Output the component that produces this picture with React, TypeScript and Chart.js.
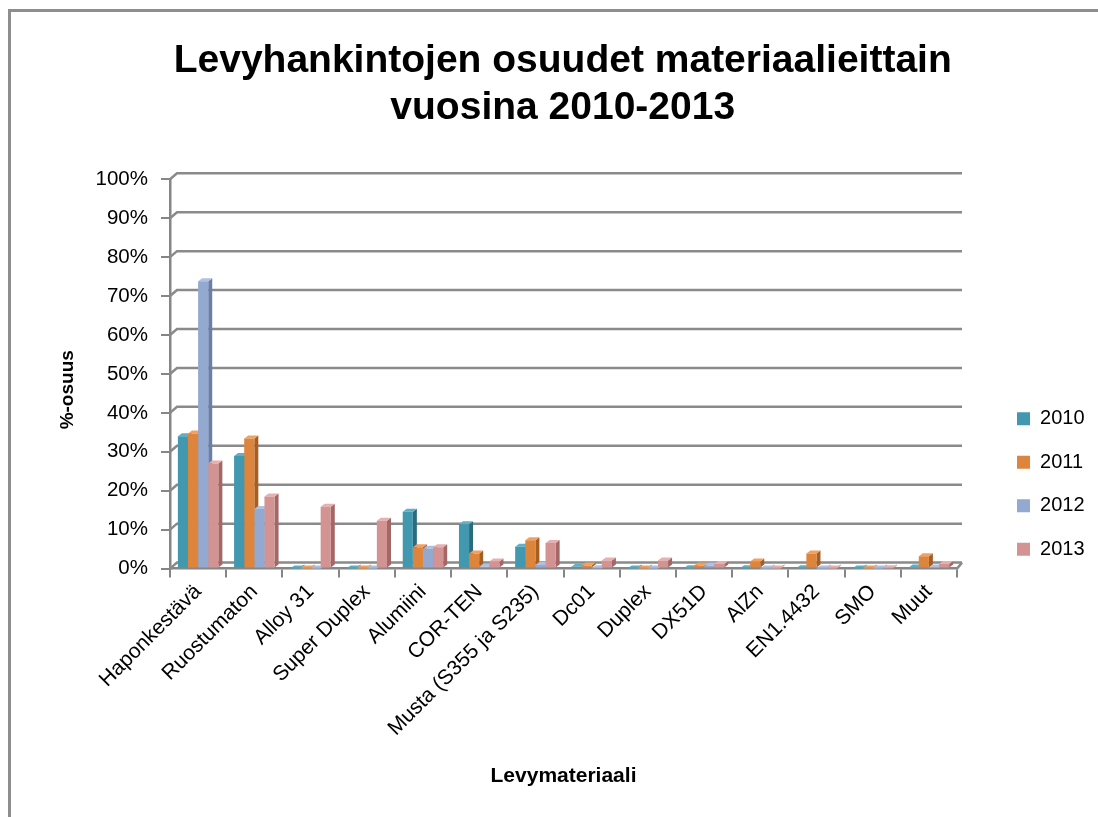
import React, { useEffect, useRef } from "react";
import { Chart, registerables } from "chart.js";

Chart.register(...registerables);

const categories = [
  "Haponkestävä",
  "Ruostumaton",
  "Alloy 31",
  "Super Duplex",
  "Alumiini",
  "COR-TEN",
  "Musta (S355 ja S235)",
  "Dc01",
  "Duplex",
  "DX51D",
  "AlZn",
  "EN1.4432",
  "SMO",
  "Muut",
];

const years = ["2010", "2011", "2012", "2013"];

const values2010 = [34.0, 28.9, 0.05, 0.05, 14.6, 11.4, 5.6, 0.5, 0.05, 0.1, 0.1, 0.1, 0.05, 0.3];
const values2011 = [34.7, 33.4, 0.05, 0.05, 5.5, 3.9, 7.3, 0.8, 0.05, 0.8, 1.8, 3.9, 0.05, 3.2];
const values2012 = [73.8, 15.3, 0.05, 0.05, 5.1, 0.5, 0.9, 0.1, 0.05, 0.8, 0.05, 0.05, 0.05, 0.3];
const values2013 = [27.0, 18.5, 15.9, 12.3, 5.5, 1.8, 6.6, 2.1, 2.1, 1.2, 0.05, 0.05, 0.1, 1.2];

const seriesValues = [values2010, values2011, values2012, values2013];

const frontColors = ["#4198AF", "#DE853D", "#93A9D0", "#D39393"];
const sideColors = ["#2B6B7C", "#A65E22", "#6A7FA6", "#A36766"];
const topColors = ["#5FB0C4", "#EFA165", "#AFC1E0", "#E5B0AF"];

const titleLines = ["Levyhankintojen osuudet materiaalieittain  ", "vuosina 2010-2013  "];
const yTitle = "%-osuus      ";
const xTitle = "Levymateriaali";

const DEPTH_X = 4;
const DEPTH_Y = 3;
const WALL_X = 7;
const WALL_Y = 6;

const depthPlugin = {
  id: "depth3d",
  beforeDatasetsDraw(chart: any) {
    const ctx = chart.ctx;
    const ys = chart.scales.y;
    const { left, right, bottom } = chart.chartArea;
    ctx.save();
    // back wall gridlines
    ctx.strokeStyle = "#8A8A8A";
    ctx.lineWidth = 2.5;
    ys.ticks.forEach((t: any) => {
      const py = ys.getPixelForValue(t.value);
      ctx.beginPath();
      ctx.moveTo(left, py);
      ctx.lineTo(left + WALL_X, py - WALL_Y);
      ctx.lineTo(right + 5, py - WALL_Y);
      ctx.stroke();
    });
    // floor right edge
    ctx.beginPath();
    ctx.moveTo(right, bottom);
    ctx.lineTo(right + 5, bottom - WALL_Y);
    ctx.stroke();
    // bar side and top faces
    chart.data.datasets.forEach((_ds: any, di: number) => {
      const meta = chart.getDatasetMeta(di);
      meta.data.forEach((bar: any) => {
        const p = bar.getProps(["x", "y", "width", "base"], true);
        const l = p.x - p.width / 2;
        const r = p.x + p.width / 2;
        const top = p.y;
        const base = p.base;
        ctx.fillStyle = sideColors[di];
        ctx.beginPath();
        ctx.moveTo(r, top);
        ctx.lineTo(r + DEPTH_X, top - DEPTH_Y);
        ctx.lineTo(r + DEPTH_X, base - DEPTH_Y);
        ctx.lineTo(r, base);
        ctx.closePath();
        ctx.fill();
        ctx.fillStyle = topColors[di];
        ctx.beginPath();
        ctx.moveTo(l, top);
        ctx.lineTo(l + DEPTH_X, top - DEPTH_Y);
        ctx.lineTo(r + DEPTH_X, top - DEPTH_Y);
        ctx.lineTo(r, top);
        ctx.closePath();
        ctx.fill();
      });
    });
    ctx.restore();
  },
};

export default function App() {
  const canvasRef = useRef<HTMLCanvasElement | null>(null);

  useEffect(() => {
    document.body.style.margin = "0";
    const canvas = canvasRef.current;
    if (!canvas) return;
    Chart.defaults.font.family = "'Liberation Sans', Arial, sans-serif";
    const chart = new Chart(canvas, {
      type: "bar",
      data: {
        labels: categories,
        datasets: years.map((yr, i) => ({
          label: yr,
          data: seriesValues[i],
          backgroundColor: frontColors[i],
          borderWidth: 0,
          categoryPercentage: 0.72,
          barPercentage: 1.0,
        })),
      },
      options: {
        responsive: false,
        animation: false,
        devicePixelRatio: 1,
        layout: { padding: { top: 37, left: 52.6, right: 3.5, bottom: 24.4 } },
        plugins: {
          title: {
            display: true,
            text: titleLines,
            color: "#000",
            font: { size: 39, weight: "bold", lineHeight: 1.22 },
            padding: { top: 0, bottom: 47.1 },
          },
          legend: {
            display: true,
            position: "right",
            title: { display: true, text: "", font: { size: 12 }, padding: { top: 124, bottom: 0 } },
            labels: {
              boxWidth: 13,
              boxHeight: 13,
              padding: 23.5,
              color: "#000",
              font: { size: 20 },
            },
          },
          tooltip: { enabled: false },
        },
        scales: {
          x: {
            offset: true,
            grid: {
              display: true,
              drawOnChartArea: false,
              drawTicks: true,
              tickLength: 9,
              color: "#868686",
              lineWidth: 2,
              offset: true,
            },
            border: { display: true, color: "#868686", width: 2.5 },
            ticks: {
              color: "#000",
              font: { size: 21 },
              maxRotation: 45,
              minRotation: 45,
              autoSkip: false,
              padding: 2,
            },
            title: {
              display: true,
              text: xTitle,
              color: "#000",
              font: { size: 21, weight: "bold" },
              padding: { top: 4, bottom: 4 },
            },
            afterFit: (s: any) => {
              s.height = 224;
            },
          },
          y: {
            min: 0,
            max: 100,
            grid: {
              display: true,
              drawOnChartArea: false,
              drawTicks: true,
              tickLength: 9,
              color: "#868686",
              lineWidth: 2,
            },
            border: { display: true, color: "#868686", width: 2.5 },
            ticks: {
              stepSize: 10,
              color: "#000",
              font: { size: 20.5 },
              padding: 13,
              callback: (v: any) => v + "%",
            },
            title: {
              display: true,
              text: yTitle,
              color: "#000",
              font: { size: 19, weight: "bold" },
              padding: { top: 4, bottom: 4 },
            },
            afterFit: (s: any) => {
              s.width = 117.4;
            },
          },
          yr: {
            type: "linear",
            position: "right",
            display: true,
            grid: { display: false },
            border: { display: false },
            ticks: { display: false },
            afterFit: (s: any) => {
              s.width = 36.5;
            },
          },
        },
      },
      plugins: [depthPlugin],
    } as any);
    return () => chart.destroy();
  }, []);

  return (
    <div style={{ position: "absolute", left: 0, top: 0, width: 1098, height: 817, background: "#fff" }}>
      <div
        style={{
          position: "absolute",
          left: 8,
          top: 9,
          width: 1090,
          height: 808,
          borderTop: "3px solid #8E8E8E",
          borderLeft: "3px solid #8E8E8E",
          boxSizing: "border-box",
        }}
      />
      <canvas
        ref={canvasRef}
        width={1098}
        height={817}
        style={{ position: "absolute", left: 0, top: 0, width: 1098, height: 817 }}
      />
    </div>
  );
}
